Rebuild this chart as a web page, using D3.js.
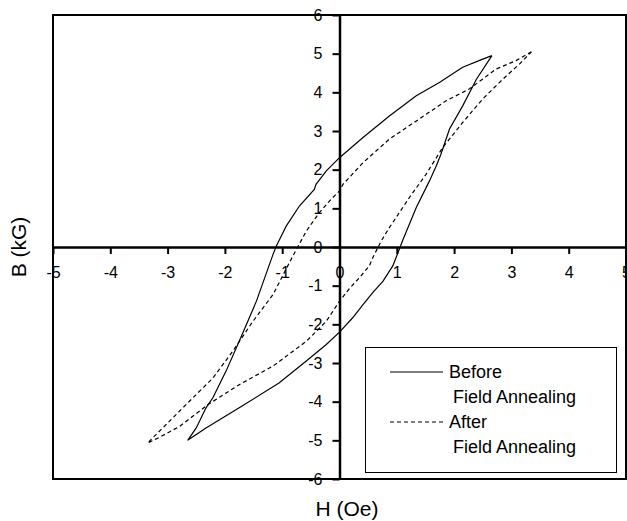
<!DOCTYPE html>
<html lang="en">
<head>
    <meta charset="UTF-8">
    <title>B-H Loop</title>
    <script src="https://d3js.org/d3.v7.min.js"></script>
    <style>
        body {
            margin: 0;
            background: #fff;
            font-family: Arial, "Liberation Sans", sans-serif;
        }
        .tick text {
            font-size: 16px;
            fill: #000;
        }
    </style>
</head>
<body>
    <script>
        // Before field annealing loop (H in Oe, B in kG), traced around the loop
        const beforeH = [2.66, 2.50, 2.15, 1.75, 1.34, 0.87, 0.41, 0.00, -0.23, -0.41, -0.44, -0.70, -0.93, -1.10,
            -1.16, -1.45, -1.75, -1.98, -2.21, -2.33, -2.50, -2.65,
            -2.33, -1.75, -1.05, -0.58, -0.23, 0.00, 0.23, 0.41, 0.58, 0.76, 0.93, 1.02, 1.10,
            1.34, 1.57, 1.69, 1.77, 1.92, 2.15, 2.39, 2.66];
        const beforeB = [4.95, 4.86, 4.65, 4.26, 3.91, 3.39, 2.83, 2.31, 1.97, 1.62, 1.49, 1.06, 0.54, 0.03,
            -0.19, -1.40, -2.44, -3.21, -3.90, -4.16, -4.68, -5.00,
            -4.68, -4.16, -3.51, -2.95, -2.52, -2.20, -1.83, -1.49, -1.18, -0.88, -0.49, -0.15, 0.16,
            1.02, 1.71, 2.10, 2.40, 3.05, 3.65, 4.34, 4.95];

        // After field annealing loop
        const afterH = [3.35, 3.08, 2.73, 2.27, 1.86, 1.34, 0.87, 0.41, 0.06, 0.00, -0.15, -0.35, -0.58, -0.82,
            -1.16, -1.51, -1.86, -2.21, -2.62, -2.97, -3.35,
            -3.14, -2.79, -2.30, -1.75, -1.16, -0.58, -0.23, 0.00, 0.17, 0.35, 0.52, 0.58, 0.64, 0.73,
            0.87, 1.22, 1.51, 1.80, 2.15, 2.50, 2.85, 3.14, 3.35];
        const afterB = [5.05, 4.82, 4.60, 4.09, 3.78, 3.26, 2.79, 2.18, 1.62, 1.45, 1.23, 0.89, 0.41, -0.25,
            -1.23, -1.92, -2.69, -3.39, -3.99, -4.51, -5.07,
            -4.92, -4.64, -4.08, -3.56, -3.08, -2.44, -1.92, -1.40, -1.08, -0.79, -0.49, -0.28, -0.10, 0.16,
            0.50, 1.28, 1.88, 2.57, 3.22, 3.83, 4.34, 4.73, 5.05];

        const xTicks = [-5, -4, -3, -2, -1, 0, 1, 2, 3, 4, 5];
        const yTicks = [-6, -5, -4, -3, -2, -1, 0, 1, 2, 3, 4, 5, 6];
        const seriesNames = ["Before", "After"];
        const legendSub = "Field Annealing";

        const w = 627;
        const h = 521;
        const mLeft = 53, mRight = 626, mTop = 15, mBottom = 479;

        const x = d3.scaleLinear().domain([-5, 5]).range([mLeft, mRight]);
        const y = d3.scaleLinear().domain([-6, 6]).range([mBottom, mTop]);

        const svg = d3.select("body")
            .append("svg")
            .attr("width", w)
            .attr("height", h);

        // frame
        svg.append("rect")
            .attr("x", mLeft)
            .attr("y", mTop)
            .attr("width", mRight - mLeft)
            .attr("height", mBottom - mTop)
            .attr("fill", "none")
            .attr("stroke", "#000")
            .attr("stroke-width", 2);

        // axes through the origin, plain hyphen for negatives
        const fmt = d => String(d);
        const xAxis = svg.append("g")
            .attr("transform", `translate(0, ${y(0)})`)
            .call(d3.axisBottom(x).tickValues(xTicks).tickFormat(fmt)
                .tickSizeInner(7).tickSizeOuter(0).tickPadding(13));
        const yAxis = svg.append("g")
            .attr("transform", `translate(${x(0)}, 0)`)
            .call(d3.axisLeft(y).tickValues(yTicks).tickFormat(fmt)
                .tickSizeInner(7).tickSizeOuter(0).tickPadding(10));

        [xAxis, yAxis].forEach(g => {
            g.select(".domain").attr("stroke-width", 2.5);
            g.selectAll(".tick line").attr("stroke-width", 2);
            g.attr("font-family", null).attr("font-size", null);
        });

        const line = d3.line().x(d => x(d[0])).y(d => y(d[1]));

        svg.append("path")
            .datum(beforeH.map((v, i) => [v, beforeB[i]]))
            .attr("d", line)
            .attr("fill", "none")
            .attr("stroke", "#000")
            .attr("stroke-width", 1.2);

        svg.append("path")
            .datum(afterH.map((v, i) => [v, afterB[i]]))
            .attr("d", line)
            .attr("fill", "none")
            .attr("stroke", "#000")
            .attr("stroke-width", 1.2)
            .attr("stroke-dasharray", "4,3");

        // axis titles
        svg.append("text")
            .attr("x", x(0.13))
            .attr("y", 516)
            .attr("text-anchor", "middle")
            .attr("font-size", 21)
            .text("H (Oe)");

        svg.append("text")
            .attr("transform", `translate(26, ${y(0)}) rotate(-90)`)
            .attr("text-anchor", "middle")
            .attr("font-size", 21)
            .text("B (kG)");

        // legend
        const legend = svg.append("g");
        legend.append("rect")
            .attr("x", 365.5)
            .attr("y", 347.5)
            .attr("width", 251)
            .attr("height", 125)
            .attr("fill", "#fff")
            .attr("stroke", "#000")
            .attr("stroke-width", 1);

        seriesNames.forEach((name, i) => {
            const ly = 372 + i * 50;
            legend.append("line")
                .attr("x1", 390)
                .attr("x2", 443)
                .attr("y1", ly)
                .attr("y2", ly)
                .attr("stroke", "#000")
                .attr("stroke-width", 1.2)
                .attr("stroke-dasharray", i === 1 ? "4,3" : null);
            legend.append("text")
                .attr("x", 449)
                .attr("y", ly + 6)
                .attr("font-size", 18)
                .text(name);
            legend.append("text")
                .attr("x", 453)
                .attr("y", ly + 31)
                .attr("font-size", 18)
                .text(legendSub);
        });
    </script>
</body>
</html>
